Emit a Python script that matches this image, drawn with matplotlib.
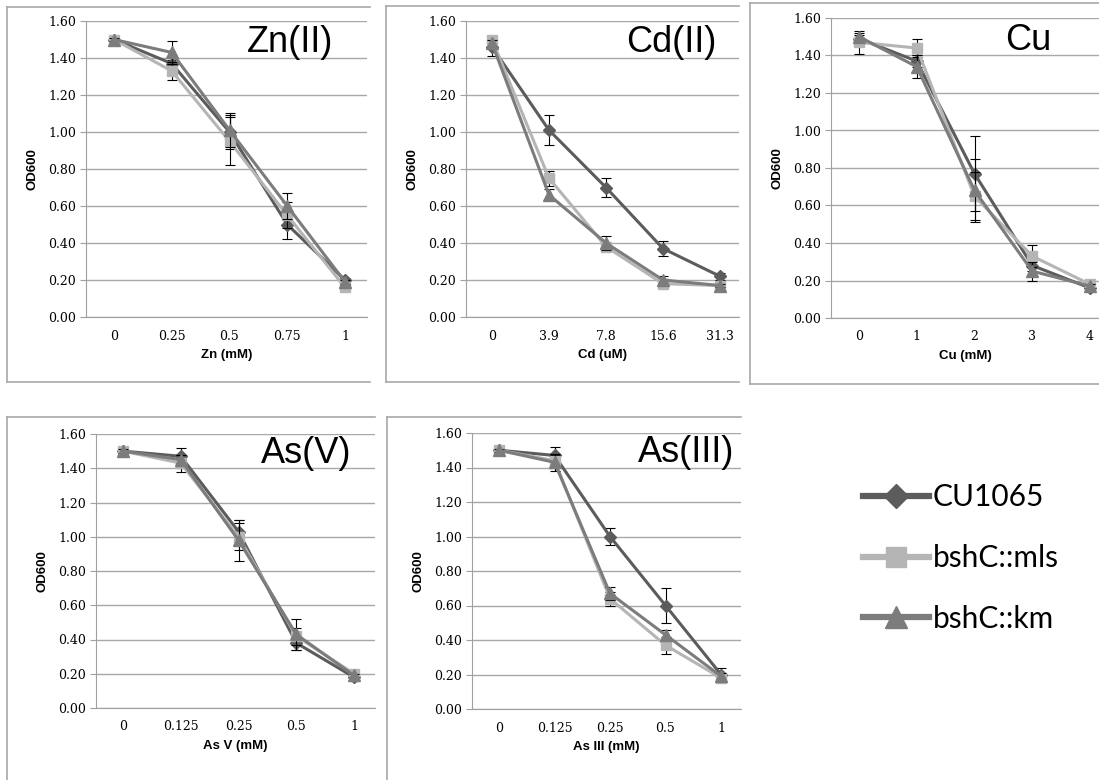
import matplotlib
matplotlib.use("Agg")
import matplotlib.pyplot as plt
from matplotlib.lines import Line2D

W, H = 1099, 780

# dados (OD600)
cepas = ["CU1065", "bshC::mls", "bshC::km"]

zn_x = ["0", "0.25", "0.5", "0.75", "1"]
zn_cu = [1.50, 1.37, 1.00, 0.50, 0.20]
zn_mls = [1.50, 1.33, 0.95, 0.55, 0.16]
zn_km = [1.50, 1.43, 1.01, 0.60, 0.19]
zn_cu_err = [0.01, 0.02, 0.09, 0.08, 0.01]
zn_mls_err = [0.01, 0.05, 0.13, 0.07, 0.01]
zn_km_err = [0.01, 0.06, 0.09, 0.07, 0.01]

cd_x = ["0", "3.9", "7.8", "15.6", "31.3"]
cd_cu = [1.46, 1.01, 0.70, 0.37, 0.22]
cd_mls = [1.50, 0.75, 0.38, 0.18, 0.17]
cd_km = [1.48, 0.66, 0.40, 0.20, 0.17]
cd_cu_err = [0.05, 0.08, 0.05, 0.04, 0.02]
cd_mls_err = [0.02, 0.04, 0.02, 0.02, 0.01]
cd_km_err = [0.02, 0.03, 0.04, 0.02, 0.01]

cu_x = ["0", "1", "2", "3", "4"]
cu_cu = [1.49, 1.37, 0.77, 0.28, 0.16]
cu_mls = [1.47, 1.44, 0.65, 0.33, 0.18]
cu_km = [1.50, 1.34, 0.68, 0.25, 0.17]
cu_cu_err = [0.02, 0.03, 0.20, 0.03, 0.01]
cu_mls_err = [0.06, 0.05, 0.13, 0.06, 0.01]
cu_km_err = [0.02, 0.06, 0.17, 0.05, 0.01]

asv_x = ["0", "0.125", "0.25", "0.5", "1"]
asv_cu = [1.50, 1.47, 1.03, 0.38, 0.18]
asv_mls = [1.50, 1.43, 1.00, 0.42, 0.20]
asv_km = [1.50, 1.45, 0.98, 0.43, 0.19]
asv_cu_err = [0.01, 0.05, 0.07, 0.04, 0.02]
asv_mls_err = [0.01, 0.05, 0.08, 0.05, 0.01]
asv_km_err = [0.01, 0.03, 0.12, 0.09, 0.01]

asiii_x = ["0", "0.125", "0.25", "0.5", "1"]
asiii_cu = [1.50, 1.47, 1.00, 0.60, 0.20]
asiii_mls = [1.50, 1.44, 0.64, 0.37, 0.18]
asiii_km = [1.50, 1.43, 0.67, 0.43, 0.19]
asiii_cu_err = [0.01, 0.05, 0.05, 0.10, 0.04]
asiii_mls_err = [0.01, 0.03, 0.04, 0.05, 0.01]
asiii_km_err = [0.01, 0.05, 0.04, 0.03, 0.02]

cores = ["#5c5c5c", "#b5b5b5", "#7c7c7c"]
marcadores = ["D", "s", "^"]
tamanhos = [6.5, 7.5, 8.5]

fig = plt.figure(figsize=(W / 100, H / 100), dpi=100)


def px(x, y):
    return x / W, 1 - y / H


def linha(x1, y1, x2, y2):
    a = px(x1, y1)
    b = px(x2, y2)
    fig.add_artist(Line2D([a[0], b[0]], [a[1], b[1]], color="#a8a8a8", lw=1.2))


#cria um painel no estilo excel
def painel(x0, x1, ytop, ybot, cat0, cat4, cats, series, erros, xlabel, titulo, tpos):
    ax = fig.add_axes([x0 / W, 1 - ybot / H, (x1 - x0) / W, (ybot - ytop) / H])
    passo = (cat4 - cat0) / 4
    ax.set_xlim(-(cat0 - x0) / passo, 4 + (x1 - cat4) / passo)
    ax.set_ylim(0, 1.6)
    pos = list(range(len(cats)))
    for i in range(3):
        ax.errorbar(pos, series[i], yerr=erros[i], color=cores[i], lw=2.2,
                    marker=marcadores[i], ms=tamanhos[i], mec=cores[i],
                    ecolor="black", elinewidth=0.8, capsize=3.5, capthick=0.8, zorder=3 + i)
    ax.set_xticks(pos)
    ax.set_xticklabels(cats, family="DejaVu Serif", fontsize=9)
    ax.set_yticks([0, 0.2, 0.4, 0.6, 0.8, 1.0, 1.2, 1.4, 1.6])
    ax.set_yticklabels(["%.2f" % v for v in ax.get_yticks()], family="DejaVu Serif", fontsize=9)
    ax.tick_params(axis="x", length=0, pad=9)
    ax.tick_params(axis="y", length=4, color="#a0a0a0", pad=3)
    ax.grid(axis="y", color="#a8a8a8", lw=1)
    ax.set_axisbelow(True)
    for s in ["top", "right"]:
        ax.spines[s].set_visible(False)
    for s in ["left", "bottom"]:
        ax.spines[s].set_color("#a0a0a0")
    ax.set_ylabel("OD600", family="Liberation Sans", fontweight="bold", fontsize=9.5, labelpad=7)
    ax.set_xlabel(xlabel, family="Liberation Sans", fontweight="bold", fontsize=9.5, labelpad=5)
    tx, ty = px(*tpos)
    fig.text(tx, ty, titulo, family="Liberation Sans", fontsize=26, ha="center", va="center")
    return ax


painel(86, 367, 21, 317, 114, 345, zn_x, [zn_cu, zn_mls, zn_km],
       [zn_cu_err, zn_mls_err, zn_km_err], "Zn (mM)", "Zn(II)", (290, 42))
painel(466, 739, 21, 317, 492, 720, cd_x, [cd_cu, cd_mls, cd_km],
       [cd_cu_err, cd_mls_err, cd_km_err], "Cd (uM)", "Cd(II)", (671, 43))
painel(831, 1099, 18, 318, 859, 1090, cu_x, [cu_cu, cu_mls, cu_km],
       [cu_cu_err, cu_mls_err, cu_km_err], "Cu (mM)", "Cu", (1028, 40))
painel(96, 375, 434, 708, 123, 354, asv_x, [asv_cu, asv_mls, asv_km],
       [asv_cu_err, asv_mls_err, asv_km_err], "As V (mM)", "As(V)", (306, 453))
painel(472, 741, 433, 709, 499, 721, asiii_x, [asiii_cu, asiii_mls, asiii_km],
       [asiii_cu_err, asiii_mls_err, asiii_km_err], "As III (mM)", "As(III)", (686, 452))

# bordas das caixas dos gráficos (recortadas como na figura)
linha(7, 7, 7, 382); linha(7, 7, 370, 7); linha(7, 382, 370, 382)
linha(386, 6, 386, 382); linha(386, 6, 739, 6); linha(386, 382, 739, 382)
linha(750, 3, 750, 384); linha(750, 3, 1099, 3); linha(750, 384, 1099, 384)
linha(7, 417, 7, 780); linha(7, 417, 375, 417)
linha(387, 417, 387, 780); linha(387, 417, 741, 417)

# legenda
alcas = [Line2D([], [], color=cores[i], lw=4.5, marker=marcadores[i],
                ms=tamanhos[i] * 1.9, mec=cores[i]) for i in range(3)]
lx, ly = px(836, 558)
fig.legend(alcas, cepas, loc="center left", bbox_to_anchor=(lx, ly), frameon=False,
           prop={"family": "Lato", "size": 21.5}, handlelength=2.2, labelspacing=1.1,
           handletextpad=0.15)

fig.savefig("out.png", dpi=100)
